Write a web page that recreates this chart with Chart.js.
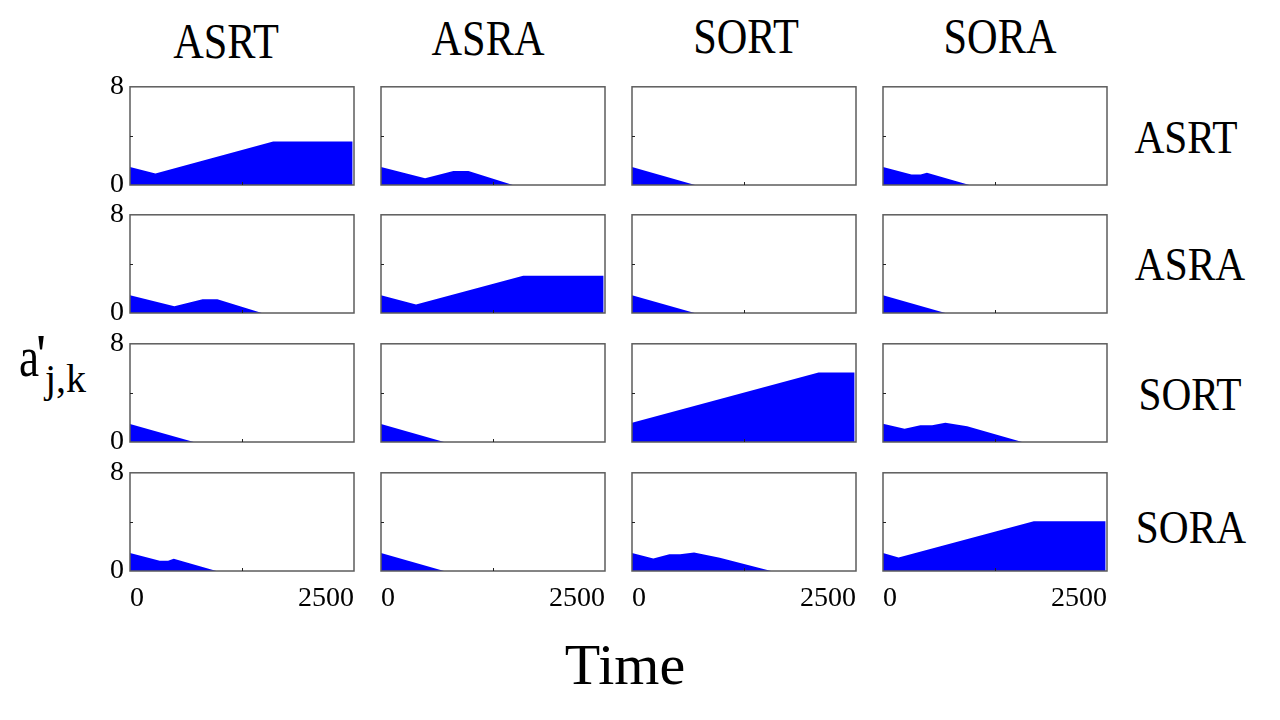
<!DOCTYPE html>
<html><head><meta charset="utf-8">
<script src="https://cdn.jsdelivr.net/npm/chart.js@4.4.1/dist/chart.umd.min.js"></script>
<style>
html,body{margin:0;padding:0;background:#fff;}
#wrap{position:relative;width:1280px;height:720px;overflow:hidden;font-family:"Liberation Serif","Times New Roman",serif;color:#000;background:#fff;}
#wrap canvas{position:absolute;}
.lab{position:absolute;white-space:nowrap;line-height:1;font-family:"Liberation Serif","Times New Roman",serif;color:#000;}
</style></head><body><div id="wrap"></div>
<script>
// ---- names / labels ----
const rowNames = ['ASRT','ASRA','SORT','SORA'];
const colNames = ['ASRT','ASRA','SORT','SORA'];
const xTickValues = [0, 1250, 2500];
const xTickLabels = ['0', '', '2500'];
const yTickValues = [0, 4, 8];
const yTickLabels = ['0', '', '8'];
const xLabel = 'Time';

// ---- series: time (t) and value (v) per panel, row name first ----
const asrt_asrt_t = [0, 284, 1598, 2485];
const asrt_asrt_v = [1.47, 0.94, 3.54, 3.54];
const asrt_asra_t = [0, 492, 808, 976, 1472];
const asrt_asra_v = [1.47, 0.54, 1.15, 1.15, 0];
const asrt_sort_t = [0, 704];
const asrt_sort_v = [1.47, 0];
const asrt_sora_t = [0, 318, 420, 490, 965];
const asrt_sora_v = [1.47, 0.85, 0.85, 1.0, 0];

const asra_asrt_t = [0, 495, 810, 975, 1472];
const asra_asrt_v = [1.45, 0.54, 1.12, 1.12, 0];
const asra_asra_t = [0, 391, 1587, 2485];
const asra_asra_v = [1.45, 0.69, 3.03, 3.03];
const asra_sort_t = [0, 700];
const asra_sort_v = [1.45, 0];
const asra_sora_t = [0, 696];
const asra_sora_v = [1.45, 0];

const sort_asrt_t = [0, 712];
const sort_asrt_v = [1.47, 0];
const sort_asra_t = [0, 704];
const sort_asra_v = [1.47, 0];
const sort_sort_t = [0, 2082, 2485];
const sort_sort_v = [1.56, 5.67, 5.67];
const sort_sora_t = [0, 241, 417, 548, 696, 939, 1553];
const sort_sora_v = [1.48, 1.08, 1.37, 1.37, 1.56, 1.29, 0];

const sora_asrt_t = [0, 332, 425, 488, 965];
const sora_asrt_v = [1.47, 0.83, 0.83, 0.99, 0];
const sora_asra_t = [0, 704];
const sora_asra_v = [1.47, 0];
const sora_sort_t = [0, 238, 417, 536, 693, 980, 1553];
const sora_sort_v = [1.47, 1.02, 1.37, 1.37, 1.51, 1.07, 0];
const sora_sora_t = [0, 174, 1683, 2485];
const sora_sora_v = [1.47, 1.10, 4.05, 4.05];

const panelT = [
  [asrt_asrt_t, asrt_asra_t, asrt_sort_t, asrt_sora_t],
  [asra_asrt_t, asra_asra_t, asra_sort_t, asra_sora_t],
  [sort_asrt_t, sort_asra_t, sort_sort_t, sort_sora_t],
  [sora_asrt_t, sora_asra_t, sora_sort_t, sora_sora_t]
];
const panelV = [
  [asrt_asrt_v, asrt_asra_v, asrt_sort_v, asrt_sora_v],
  [asra_asrt_v, asra_asra_v, asra_sort_v, asra_sora_v],
  [sort_asrt_v, sort_asra_v, sort_sort_v, sort_sora_v],
  [sora_asrt_v, sora_asra_v, sora_sort_v, sora_sora_v]
];

// ---- layout ----
const wrap = document.getElementById('wrap');
const panelLeft = [130, 381, 632, 883];
const panelTop = [86, 214, 343, 472];
const PW = 224, PH = 99;
const L = 50, T = 22, R = 16, B = 50;
const FAM = '"Liberation Serif","Times New Roman",serif';
const tickFont = {family: FAM, size: 28};

const framePlugin = {
  id: 'frame',
  afterDatasetsDraw(chart) {
    const {ctx, chartArea: a, scales} = chart;
    ctx.save();
    ctx.strokeStyle = '#5c5c5c';
    ctx.lineWidth = 1.5;
    ctx.strokeRect(a.left, a.top, a.right - a.left, a.bottom - a.top);
    ctx.strokeStyle = '#222';
    ctx.lineWidth = 1;
    const yp = Math.round(scales.y.getPixelForValue(yTickValues[1])) + 0.5;
    const xp = Math.round(scales.x.getPixelForValue(xTickValues[1])) + 0.5;
    ctx.beginPath();
    ctx.moveTo(a.left, yp); ctx.lineTo(a.left + 3, yp);
    ctx.moveTo(xp, a.bottom); ctx.lineTo(xp, a.bottom - 3);
    ctx.stroke();
    ctx.restore();
  }
};

Chart.defaults.font.family = FAM;

function buildCharts() {
  for (let r = 0; r < 4; r++) {
    for (let c = 0; c < 4; c++) {
      const cv = document.createElement('canvas');
      const w = PW + L + R, h = PH + T + B;
      cv.width = w; cv.height = h;
      cv.style.width = w + 'px'; cv.style.height = h + 'px';
      cv.style.left = (panelLeft[c] - L) + 'px';
      cv.style.top = (panelTop[r] - T) + 'px';
      wrap.appendChild(cv);
      const showX = r === 3, showY = c === 0;
      const pts = panelT[r][c].map((t, i) => ({x: t, y: panelV[r][c][i]}));
      new Chart(cv, {
        type: 'line',
        data: {datasets: [{
          data: pts,
          fill: 'origin',
          backgroundColor: '#0000ff',
          borderColor: 'rgba(0,0,255,0)',
          borderWidth: 0,
          pointRadius: 0,
          tension: 0
        }]},
        options: {
          responsive: false,
          animation: false,
          devicePixelRatio: 1,
          layout: {padding: {left: 0, top: T, right: R, bottom: 0}},
          plugins: {legend: {display: false}, tooltip: {enabled: false}, title: {display: false}},
          events: [],
          scales: {
            x: {
              type: 'linear', min: 0, max: 2500,
              afterBuildTicks: s => { s.ticks = xTickValues.map(v => ({value: v})); },
              afterFit: s => { s.height = B; },
              grid: {display: false, drawTicks: false},
              border: {display: false},
              ticks: {
                autoSkip: false, maxRotation: 0, minRotation: 0, align: 'inner',
                padding: 11, color: '#000', font: tickFont,
                callback: (v, i) => showX ? xTickLabels[i] : ''
              }
            },
            y: {
              type: 'linear', min: 0, max: 8,
              afterBuildTicks: s => { s.ticks = yTickValues.map(v => ({value: v})); },
              afterFit: s => { s.width = L; },
              grid: {display: false, drawTicks: false},
              border: {display: false},
              ticks: {
                padding: 6, color: '#000', font: tickFont,
                callback: (v, i) => showY ? yTickLabels[i] : ''
              }
            }
          }
        },
        plugins: [framePlugin]
      });
    }
  }
}

// ---- text labels ----
function addText(text, cx, baseline, size, sx) {
  const d = document.createElement('div');
  d.className = 'lab';
  d.textContent = text;
  d.style.fontSize = size + 'px';
  d.style.left = cx + 'px';
  d.style.top = (baseline - 0.8375 * size) + 'px';
  d.style.transform = 'translateX(-50%) scaleX(' + sx + ')';
  wrap.appendChild(d);
  return d;
}
const colCx = [226, 488, 746, 1000];
const colBase = [59, 55.5, 53.5, 53.5];
colNames.forEach((n, i) => addText(n, colCx[i], colBase[i], 51, 0.83));
const rowCx = [1186, 1190, 1190, 1191];
const rowBase = [153.5, 280, 410, 543];
rowNames.forEach((n, i) => addText(n, rowCx[i], rowBase[i], 47, 0.88));
addText(xLabel, 625, 685, 58, 1);

function addSpan(text, left, baseline, size, sx) {
  const d = document.createElement('div');
  d.className = 'lab';
  d.textContent = text;
  d.style.fontSize = size + 'px';
  d.style.left = left + 'px';
  d.style.top = (baseline - 0.8375 * size) + 'px';
  if (sx) { d.style.transformOrigin = 'left top'; d.style.transform = 'scaleX(' + sx + ')'; }
  wrap.appendChild(d);
}
addSpan('a', 19, 377, 58, 0.78);
addSpan("'", 36, 374, 56);
addSpan('j,k', 45, 392, 40);

if (document.fonts && document.fonts.load) {
  document.fonts.load('28px "Liberation Serif"').then(buildCharts, buildCharts);
} else {
  buildCharts();
}
</script></body></html>
